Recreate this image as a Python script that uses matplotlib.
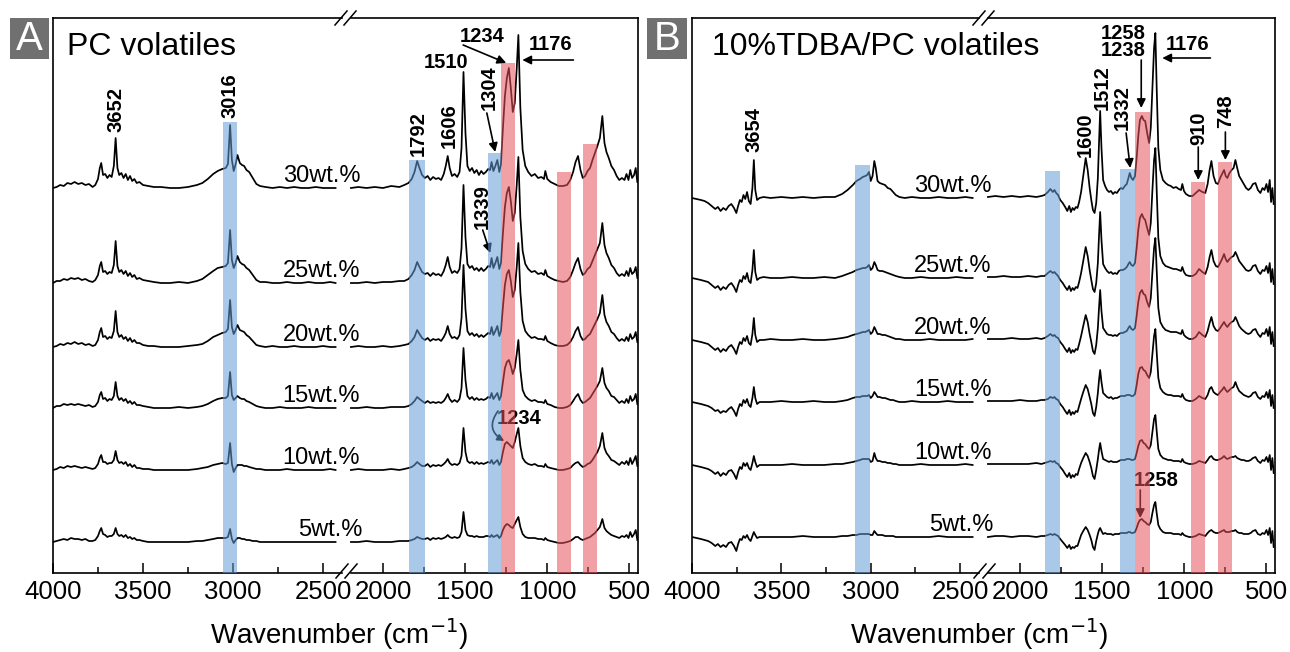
import numpy as np
import matplotlib.pyplot as plt
from matplotlib.lines import Line2D
from matplotlib.patches import Rectangle

plt.rcParams['font.family'] = ['Liberation Sans', 'DejaVu Sans']

# ---------------- data (absorbance, arbitrary units) ----------------
CONC = ['30wt.%', '25wt.%', '20wt.%', '15wt.%', '10wt.%', '5wt.%']

# panel A: PC volatiles
A_LEFT_WN = [4000, 3980, 3960, 3940, 3920, 3900, 3880, 3860, 3840, 3820,
             3800, 3780, 3765, 3750, 3740, 3732, 3722, 3710, 3698, 3686,
             3674, 3662, 3652, 3642, 3632, 3620, 3608, 3596, 3584, 3572,
             3560, 3548, 3535, 3520, 3500, 3470, 3440, 3400, 3350, 3300,
             3250, 3200, 3170, 3140, 3110, 3085, 3060, 3040, 3028, 3016,
             3006, 2996, 2985, 2975, 2962, 2950, 2938, 2925, 2910, 2890,
             2870, 2850, 2820, 2780, 2740, 2700, 2660, 2620, 2580, 2540,
             2500, 2460, 2430]
A_LEFT_30 = [0, 1, 3, 2, 5, 4, 6, 4, 5, 3, 4, 1, 3, 9, 20, 25, 13, 14, 10, 13,
             11, 22, 50, 20, 13, 15, 10, 14, 8, 12, 7, 9, 5, 6, 3, 2, 1, 1, 0, 0,
             1, 3, 5, 9, 14, 17, 19, 20, 24, 63, 28, 17, 24, 33, 25, 23, 22, 18, 16, 10,
             4, 2, 1, 0, 1, 0, 1, 0, 0, 1, 0, 0, 0]
A_LEFT_25 = [0, 2, 2, 4, 3, 5, 4, 5, 3, 4, 2, 1, 3, 8, 17, 21, 11, 12, 9, 11,
             10, 18, 42, 17, 11, 13, 9, 12, 7, 10, 6, 8, 4, 5, 3, 2, 1, 0, 0, 1,
             0, 2, 4, 8, 12, 15, 16, 17, 20, 53, 23, 15, 20, 27, 21, 19, 18, 15, 13, 8,
             3, 1, 1, 0, 0, 1, 0, 0, 1, 0, 0, 1, 0]
A_LEFT_20 = [0, 1, 3, 2, 4, 3, 5, 3, 4, 2, 3, 1, 2, 7, 15, 19, 10, 11, 8, 10,
             9, 16, 36, 15, 10, 12, 8, 10, 6, 9, 5, 7, 4, 4, 2, 1, 1, 0, 0, 0,
             1, 2, 3, 6, 10, 12, 14, 15, 18, 47, 20, 13, 17, 22, 17, 16, 15, 12, 10, 6,
             2, 1, 0, 1, 0, 0, 1, 0, 0, 0, 1, 0, 0]
A_LEFT_15 = [0, 2, 2, 4, 3, 4, 3, 4, 3, 2, 3, 1, 2, 6, 13, 16, 9, 10, 7, 9,
             8, 12, 26, 12, 8, 10, 7, 9, 5, 7, 4, 6, 3, 3, 2, 1, 0, 0, 0, 1,
             0, 1, 2, 4, 7, 9, 10, 10, 12, 36, 13, 8, 10, 12, 10, 9, 9, 7, 6, 4,
             2, 1, 0, 0, 1, 0, 0, 0, 1, 0, 0, 0, 0]
A_LEFT_10 = [0, 1, 3, 2, 4, 3, 4, 3, 2, 3, 2, 1, 2, 6, 12, 15, 8, 8, 6, 7,
             7, 10, 19, 10, 7, 8, 6, 8, 4, 6, 3, 5, 2, 2, 1, 1, 0, 0, 0, 0,
             0, 1, 2, 3, 5, 6, 7, 6, 7, 27, 6, -2, 2, 5, 5, 5, 4, 4, 3, 2,
             1, 1, 0, 0, 0, 1, 0, 0, 0, 0, 0, 1, 0]
A_LEFT_5 = [0, 1, 2, 3, 2, 4, 3, 3, 2, 3, 1, 1, 2, 6, 11, 14, 8, 7, 5, 6,
            6, 8, 14, 8, 6, 7, 5, 7, 4, 5, 3, 4, 2, 2, 1, 0, 0, 0, 0, 0,
            0, 1, 1, 2, 3, 4, 4, 4, 5, 13, 3, -1, 2, 4, 4, 3, 3, 2, 2, 1,
            1, 0, 0, 0, 0, 0, 0, 0, 0, 0, 0, 0, 0]

A_RIGHT_WN = [2195, 2150, 2100, 2050, 2000, 1950, 1900, 1870, 1845, 1825,
              1808, 1792, 1778, 1762, 1745, 1728, 1712, 1695, 1678, 1662,
              1646, 1630, 1618, 1606, 1594, 1580, 1564, 1548, 1534, 1522,
              1510, 1498, 1486, 1472, 1458, 1444, 1430, 1416, 1402, 1388,
              1374, 1360, 1348, 1339, 1328, 1316, 1304, 1292, 1282, 1270,
              1258, 1246, 1234, 1222, 1210, 1198, 1186, 1176, 1164, 1150,
              1134, 1116, 1096, 1076, 1056, 1036, 1020, 1012, 1000, 980,
              955, 930, 905, 880, 860, 843, 828, 813, 798, 784,
              770, 755, 740, 725, 710, 695, 680, 665, 652, 640,
              626, 610, 594, 578, 562, 546, 530, 518, 506, 495,
              484, 472, 462, 452]
A_RIGHT_30 = [0, 1, 0, 1, 0, 2, 1, 3, 5, 9, 16, 27, 20, 13, 10, 12, 8, 11, 9, 10,
              8, 14, 22, 32, 20, 12, 14, 11, 16, 40, 116, 55, 22, 17, 20, 15, 18, 13, 17, 14,
              16, 19, 18, 26, 17, 22, 28, 16, 24, 60, 92, 110, 120, 100, 76, 85, 120, 153, 80, 38,
              22, 16, 12, 14, 10, 11, 9, 17, 9, 6, 4, 2, 2, 3, 8, 16, 26, 32, 18, 10,
              12, 17, 20, 28, 35, 42, 50, 72, 45, 36, 30, 22, 18, 12, 8, 10, 8, 14, 8, 18,
              10, 13, 20, 6]
A_RIGHT_25 = [0, 0, 1, 0, 1, 1, 2, 2, 4, 8, 13, 21, 16, 11, 9, 10, 7, 10, 8, 9,
              7, 12, 18, 26, 16, 10, 12, 10, 14, 35, 98, 46, 19, 15, 17, 13, 15, 12, 15, 12,
              14, 17, 16, 25, 15, 20, 26, 14, 20, 50, 76, 90, 96, 82, 62, 70, 98, 126, 66, 32,
              19, 14, 11, 12, 9, 10, 8, 13, 7, 5, 3, 2, 1, 2, 6, 13, 20, 25, 14, 8,
              10, 14, 16, 22, 28, 34, 40, 60, 38, 30, 25, 18, 15, 10, 7, 9, 7, 12, 7, 15,
              9, 11, 16, 5]
A_RIGHT_20 = [0, 1, 0, 0, 1, 0, 1, 2, 3, 6, 10, 17, 13, 9, 7, 9, 6, 8, 7, 8,
              6, 10, 14, 21, 13, 9, 10, 8, 12, 29, 82, 38, 16, 12, 14, 11, 13, 10, 12, 10,
              12, 14, 13, 20, 12, 16, 21, 11, 16, 40, 62, 73, 77, 66, 50, 57, 80, 104, 55, 26,
              16, 12, 9, 10, 8, 8, 7, 11, 6, 4, 2, 1, 1, 2, 5, 10, 16, 20, 11, 7,
              8, 11, 13, 18, 23, 28, 34, 52, 32, 25, 21, 15, 13, 9, 6, 8, 6, 10, 6, 13,
              8, 10, 15, 5]
A_RIGHT_15 = [0, 0, 1, 0, 0, 1, 1, 1, 2, 4, 7, 11, 9, 7, 5, 7, 5, 6, 5, 6,
              5, 7, 10, 14, 9, 6, 8, 6, 9, 20, 60, 28, 12, 9, 11, 8, 10, 8, 9, 8,
              9, 11, 10, 15, 9, 12, 15, 8, 12, 26, 40, 46, 48, 42, 34, 40, 54, 68, 38, 18,
              12, 9, 7, 8, 6, 6, 5, 8, 4, 3, 1, 0, 0, 1, 3, 7, 11, 14, 8, 5,
              6, 8, 10, 14, 18, 22, 27, 40, 25, 20, 17, 12, 11, 8, 5, 7, 5, 9, 5, 12,
              7, 9, 14, 4]
A_RIGHT_10 = [0, 1, 0, 0, 0, 1, 0, 1, 2, 3, 5, 8, 6, 4, 4, 6, 3, 5, 4, 5,
              4, 6, 8, 11, 7, 5, 6, 5, 7, 14, 42, 18, 9, 7, 8, 6, 8, 6, 7, 6,
              7, 8, 7, 10, 6, 8, 10, 5, 8, 18, 26, 28, 26, 24, 22, 28, 36, 42, 24, 12,
              8, 6, 5, 6, 4, 4, 3, 6, 3, 2, 1, 0, 0, 1, 2, 5, 7, 8, 5, 3,
              4, 6, 7, 10, 14, 18, 24, 37, 22, 17, 14, 10, 9, 7, 5, 8, 6, 9, 5, 12,
              6, 10, 14, 4]
A_RIGHT_5 = [0, 0, 1, 0, 0, 0, 1, 1, 1, 2, 3, 5, 4, 3, 3, 4, 2, 4, 3, 4,
             3, 4, 5, 7, 5, 4, 5, 4, 5, 10, 30, 12, 7, 6, 6, 5, 6, 5, 5, 5,
             6, 6, 5, 7, 5, 6, 7, 4, 6, 12, 16, 18, 17, 15, 14, 18, 22, 25, 15, 8,
             5, 4, 4, 4, 3, 3, 2, 4, 2, 1, 0, -1, -1, 0, 1, 3, 5, 5, 3, 2,
             3, 4, 5, 7, 9, 12, 15, 23, 14, 11, 9, 7, 6, 5, 4, 6, 5, 7, 4, 10,
             5, 8, 12, 2]

# panel B: 10%TDBA/PC volatiles
B_LEFT_WN = [4000, 3975, 3950, 3930, 3910, 3890, 3870, 3855, 3840, 3825,
             3810, 3795, 3780, 3765, 3752, 3742, 3732, 3722, 3712, 3702,
             3692, 3682, 3672, 3662, 3654, 3646, 3636, 3622, 3600, 3560,
             3500, 3440, 3380, 3320, 3260, 3200, 3160, 3130, 3100, 3080,
             3060, 3045, 3030, 3020, 3010, 3000, 2990, 2980, 2972, 2962,
             2950, 2935, 2920, 2905, 2890, 2875, 2860, 2840, 2810, 2770,
             2720, 2670, 2620, 2570, 2520, 2470, 2430]
B_LEFT_30 = [0, -1, -2, -3, -5, -8, -11, -9, -13, -10, -12, -8, -6, -10, -15, -8, -2, -4, 3, -1,
             6, -3, -6, 10, 38, 8, -2, 0, 1, 0, 1, 0, 1, 0, 1, 1, 4, 8, 13, 17,
             19, 21, 22, 23, 26, 17, 22, 37, 30, 17, 15, 14, 13, 10, 9, 6, 3, 1, 0, 1,
             0, 0, 1, 0, 0, 1, 0]
B_LEFT_25 = [0, -1, -2, -3, -4, -7, -10, -8, -12, -9, -11, -7, -5, -9, -14, -7, -2, -4, 2, -1,
             5, -3, -5, 8, 28, 6, -2, 0, 1, 0, 0, 1, 0, 0, 1, 0, 2, 4, 6, 8,
             9, 10, 10, 11, 13, 8, 10, 16, 13, 8, 7, 7, 6, 5, 4, 3, 2, 1, 0, 0,
             1, 0, 0, 0, 1, 0, 0]
B_LEFT_20 = [0, -1, -2, -3, -4, -7, -10, -8, -12, -9, -11, -7, -5, -9, -14, -7, -2, -4, 2, -1,
             4, -3, -5, 6, 22, 5, -2, 0, 0, 1, 0, 0, 1, 0, 0, 1, 2, 3, 5, 6,
             7, 8, 8, 9, 10, 6, 8, 13, 10, 6, 6, 5, 5, 4, 3, 2, 1, 1, 0, 0,
             0, 1, 0, 0, 0, 0, 1]
B_LEFT_15 = [0, -1, -2, -3, -4, -6, -9, -8, -11, -9, -10, -7, -5, -9, -14, -7, -2, -4, 2, -1,
             3, -3, -5, 4, 15, 4, -2, 0, 0, 0, 1, 0, 0, 1, 0, 0, 1, 2, 4, 5,
             5, 6, 6, 6, 7, 4, 6, 10, 8, 5, 5, 4, 4, 3, 2, 2, 1, 0, 0, 1,
             0, 0, 0, 1, 0, 0, 0]
B_LEFT_10 = [0, -1, -2, -3, -4, -6, -9, -7, -11, -8, -10, -6, -5, -9, -14, -7, -2, -4, 2, -1,
             2, -3, -5, 2, 9, 3, -2, 0, 0, 0, 0, 1, 0, 0, 0, 1, 1, 2, 3, 4,
             5, 6, 6, 6, 6, 3, 4, 12, 7, 4, 4, 3, 3, 2, 2, 1, 1, 0, 0, 0,
             1, 0, 0, 0, 0, 1, 0]
B_LEFT_5 = [0, -1, -2, -3, -4, -6, -9, -7, -10, -8, -10, -6, -5, -9, -14, -7, -2, -3, 1, -1,
            2, -2, -4, 1, 5, 2, -1, 0, 0, 0, 0, 0, 1, 0, 0, 0, 1, 1, 2, 2,
            3, 3, 3, 3, 3, 2, 2, 6, 4, 2, 2, 2, 1, 1, 1, 1, 0, 0, 0, 0,
            0, 0, 1, 0, 0, 0, 0]

B_RIGHT_WN = [2195, 2150, 2100, 2050, 2000, 1950, 1900, 1870, 1850, 1830,
              1815, 1800, 1790, 1780, 1768, 1755, 1740, 1725, 1712, 1700,
              1690, 1680, 1670, 1660, 1650, 1640, 1628, 1615, 1600, 1588,
              1576, 1566, 1556, 1546, 1536, 1526, 1519, 1512, 1504, 1494,
              1482, 1470, 1458, 1446, 1434, 1422, 1410, 1398, 1386, 1374,
              1362, 1350, 1340, 1332, 1322, 1312, 1300, 1290, 1280, 1270,
              1258, 1248, 1238, 1226, 1214, 1204, 1194, 1184, 1176, 1168,
              1158, 1146, 1130, 1114, 1098, 1082, 1066, 1050, 1034, 1020,
              1012, 1002, 990, 970, 950, 930, 910, 890, 872, 858,
              846, 835, 822, 808, 795, 782, 770, 758, 748, 738,
              725, 712, 700, 689, 678, 666, 652, 638, 624, 610,
              596, 582, 567, 552, 537, 524, 512, 500, 490, 480,
              472, 464, 456]
B_RIGHT_30 = [1, 2, 1, 2, 1, 2, 1, 2, 3, 6, 9, 6, 8, 5, 3, -2, -5, -9, -13, -8,
              -14, -10, -12, -9, -10, -4, 6, 22, 40, 28, 10, -2, -12, -15, -5, 20, 55, 87, 50, 18,
              12, 8, 6, 7, 4, 6, 5, 8, 10, 9, 12, 14, 20, 25, 20, 18, 22, 40, 62, 78,
              82, 78, 77, 65, 55, 70, 110, 150, 165, 110, 50, 28, 18, 15, 13, 12, 10, 11, 9, 8,
              14, 7, 4, 2, 2, 5, 8, 6, 5, 14, 28, 37, 22, 15, 14, 20, 24, 28, 22, 20,
              25, 28, 30, 38, 30, 22, 18, 14, 10, 8, 10, 14, 15, 8, 5, 10, 8, 14, 6, 18,
              -4, 10, -6]
B_RIGHT_25 = [1, 1, 2, 1, 1, 2, 1, 2, 2, 5, 7, 5, 6, 4, 2, -2, -5, -9, -12, -8,
              -13, -10, -12, -9, -10, -4, 5, 17, 31, 22, 8, -2, -11, -14, -5, 15, 42, 66, 38, 14,
              10, 7, 5, 6, 4, 5, 4, 7, 8, 8, 9, 11, 14, 16, 13, 12, 15, 30, 48, 60,
              64, 60, 58, 50, 43, 55, 88, 118, 130, 88, 40, 22, 15, 12, 11, 10, 9, 9, 8, 7,
              11, 6, 3, 2, 2, 4, 9, 6, 4, 11, 21, 28, 17, 12, 11, 15, 19, 24, 19, 16,
              19, 21, 22, 26, 22, 17, 14, 11, 8, 7, 8, 12, 13, 7, 4, 8, 7, 12, 5, 15,
              -4, 9, -6]
B_RIGHT_20 = [1, 1, 1, 2, 1, 1, 2, 1, 2, 4, 6, 4, 5, 3, 2, -2, -5, -9, -12, -8,
              -13, -10, -12, -9, -10, -4, 4, 14, 25, 18, 6, -2, -11, -14, -5, 12, 32, 50, 29, 12,
              9, 6, 5, 5, 4, 5, 4, 6, 7, 7, 8, 9, 12, 14, 11, 10, 12, 24, 38, 47,
              50, 46, 45, 38, 33, 42, 68, 92, 102, 70, 32, 18, 13, 10, 9, 8, 8, 8, 7, 6,
              10, 5, 3, 1, 1, 3, 8, 5, 3, 9, 17, 23, 14, 10, 9, 12, 15, 18, 15, 13,
              16, 18, 19, 23, 19, 14, 11, 9, 7, 6, 7, 10, 11, 6, 3, 7, 6, 11, 4, 13,
              -4, 8, -6]
B_RIGHT_15 = [1, 1, 1, 1, 2, 1, 1, 2, 2, 3, 5, 4, 5, 3, 2, -2, -5, -9, -12, -8,
              -13, -10, -12, -9, -10, -4, 3, 10, 17, 13, 5, -2, -11, -14, -5, 9, 22, 32, 20, 9,
              7, 5, 4, 5, 3, 4, 4, 5, 6, 6, 6, 7, 7, 7, 6, 6, 8, 17, 28, 34,
              35, 32, 31, 27, 24, 30, 48, 66, 73, 50, 24, 14, 10, 8, 7, 7, 6, 6, 6, 5,
              8, 4, 2, 1, 1, 3, 6, 4, 3, 7, 13, 15, 10, 8, 7, 10, 12, 15, 12, 10,
              12, 14, 15, 20, 15, 11, 9, 7, 6, 5, 6, 9, 10, 5, 3, 6, 5, 10, 4, 12,
              -4, 7, -6]
B_RIGHT_10 = [1, 1, 1, 1, 1, 1, 2, 1, 2, 3, 4, 3, 4, 2, 1, -2, -5, -9, -12, -8,
              -13, -10, -12, -9, -10, -4, 2, 7, 12, 9, 3, -3, -11, -14, -5, 6, 15, 22, 14, 6,
              5, 4, 3, 4, 3, 3, 3, 4, 5, 5, 5, 6, 6, 6, 5, 5, 6, 12, 19, 24,
              25, 22, 21, 18, 16, 20, 33, 46, 50, 34, 16, 10, 7, 6, 5, 5, 4, 4, 4, 3,
              6, 3, 2, 1, 1, 2, 4, 3, 2, 5, 8, 9, 6, 5, 5, 6, 7, 9, 7, 6,
              7, 8, 8, 9, 7, 6, 5, 5, 4, 4, 5, 7, 8, 4, 2, 5, 4, 8, 3, 10,
              -5, 7, -8]
B_RIGHT_5 = [0, 1, 1, 0, 1, 1, 0, 1, 1, 2, 3, 2, 3, 2, 1, -2, -5, -8, -11, -8,
             -12, -10, -11, -9, -9, -4, 2, 6, 10, 7, 2, -3, -10, -13, -4, 3, 7, 9, 6, 3,
             4, 3, 3, 3, 2, 3, 3, 3, 4, 4, 4, 4, 5, 5, 4, 4, 5, 9, 14, 17,
             18, 16, 15, 13, 12, 15, 24, 32, 35, 24, 12, 8, 5, 4, 4, 4, 3, 3, 3, 2,
             4, 2, 1, 0, 0, 1, 3, 2, 1, 4, 6, 7, 5, 4, 4, 5, 6, 7, 5, 5,
             5, 6, 6, 7, 5, 4, 4, 3, 3, 3, 4, 6, 7, 3, 2, 4, 3, 7, 2, 9,
             -6, 6, -10]

A_LEFT = [A_LEFT_30, A_LEFT_25, A_LEFT_20, A_LEFT_15, A_LEFT_10, A_LEFT_5]
A_RIGHT = [A_RIGHT_30, A_RIGHT_25, A_RIGHT_20, A_RIGHT_15, A_RIGHT_10, A_RIGHT_5]
B_LEFT = [B_LEFT_30, B_LEFT_25, B_LEFT_20, B_LEFT_15, B_LEFT_10, B_LEFT_5]
B_RIGHT = [B_RIGHT_30, B_RIGHT_25, B_RIGHT_20, B_RIGHT_15, B_RIGHT_10, B_RIGHT_5]

# ---------------- layout / style ----------------
W, H = 1290, 652
YTOP = 555                      # frame height in "pixel" data units
BLUE = '#649bd5'
PINK = '#e7525b'
LEFT_LIM = (4000, 2372)
RIGHT_LIM = (2225, 448)

fig = plt.figure(figsize=(W / 100, H / 100), dpi=100)


def px_rect(x0, x1, y0=18, y1=573):
    return [x0 / W, 1 - y1 / H, (x1 - x0) / W, (y1 - y0) / H]


def setup(ax, side):
    ax.set_facecolor('none')
    ax.set_ylim(0, YTOP)
    ax.set_yticks([])
    if side == 'left':
        ax.set_xlim(*LEFT_LIM)
        ax.set_xticks([4000, 3500, 3000, 2500])
        ax.set_xticks([3750, 3250, 2750], minor=True)
        ax.spines['right'].set_visible(False)
        ax.spines['top'].set_bounds(4000, 2395)
        ax.spines['bottom'].set_bounds(4000, 2395)
    else:
        ax.set_xlim(*RIGHT_LIM)
        ax.set_xticks([2000, 1500, 1000, 500])
        ax.set_xticks([1750, 1250, 750], minor=True)
        ax.spines['left'].set_visible(False)
        ax.spines['top'].set_bounds(2195, 448)
        ax.spines['bottom'].set_bounds(2195, 448)
    for s in ax.spines.values():
        s.set_linewidth(1.2)
    ax.tick_params(axis='x', which='major', direction='in', length=7, width=1.1,
                   labelsize=18.5, pad=5)
    ax.tick_params(axis='x', which='minor', direction='in', length=4, width=1.1)


def band(ax, lo, hi, top, color):
    ax.axvspan(lo, hi, ymin=0, ymax=top / YTOP, color=color, alpha=0.55, lw=0, zorder=4)


def arrow(ax, tail, tip, rad=0.0, ms=13):
    ax.annotate('', xy=tip, xytext=tail,
                arrowprops=dict(arrowstyle='-|>', color='black', lw=1.2,
                                mutation_scale=ms, shrinkA=0, shrinkB=0,
                                connectionstyle='arc3,rad=%s' % rad))


def label(ax, s, x, y, rot=0, **kw):
    ax.text(x, y, s, rotation=rot, ha='center', va='center', fontsize=14.5,
            fontweight='bold', zorder=3, **kw)


def slashes(xc_list, yc):
    for xc in xc_list:
        fig.add_artist(Line2D([(xc - 6) / W, (xc + 6) / W], [1 - (yc + 7) / H, 1 - (yc - 7) / H],
                              transform=fig.transFigure, color='black', lw=1.1))


panels = [
    dict(letter='A', title='PC volatiles', lx=(53, 346), rx=(346, 638), box=(10, 49),
         lwn=A_LEFT_WN, rwn=A_RIGHT_WN, left=A_LEFT, right=A_RIGHT,
         offsets=[385, 290, 226, 165, 103, 31], conc_x=[2724] * 5 + [2640],
         slash=[341, 350], xlab=339, tx=0.048),
    dict(letter='B', title='10%TDBA/PC volatiles', lx=(692, 983), rx=(983, 1275), box=(647, 687),
         lwn=B_LEFT_WN, rwn=B_RIGHT_WN, left=B_LEFT, right=B_RIGHT,
         offsets=[375, 295, 233, 171, 108, 36], conc_x=[2757] * 5 + [2673],
         slash=[979, 988], xlab=979, tx=0.069),
]

axes = []
for p in panels:
    axl = fig.add_axes(px_rect(*p['lx']))
    axr = fig.add_axes(px_rect(*p['rx']))
    setup(axl, 'left')
    setup(axr, 'right')
    for off, yl, yr, c, cx in zip(p['offsets'], p['left'], p['right'], CONC, p['conc_x']):
        axl.plot(p['lwn'], off + np.array(yl), color='black', lw=1.25, zorder=2)
        axr.plot(p['rwn'], off + np.array(yr), color='black', lw=1.25, zorder=2)
        axl.text(cx, off + 6, c, fontsize=17, va='baseline', ha='left', zorder=3)
    axl.text(p['tx'], 518, p['title'], transform=axl.get_yaxis_transform(),
             fontsize=23, va='baseline', ha='left')
    # panel letter
    b0, b1 = p['box']
    fig.add_artist(Rectangle((b0 / W, 1 - 59 / H), (b1 - b0) / W, 41 / H,
                             transform=fig.transFigure, color='#707070', lw=0))
    fig.text((b0 + b1) / 2 / W, 1 - 38.5 / H, p['letter'], color='white', fontsize=29,
             ha='center', va='center')
    fig.text(p['xlab'] / W, 0.012, 'Wavenumber (cm$^{-1}$)', fontsize=20,
             ha='center', va='baseline')
    slashes(p['slash'], 18)
    slashes([s + 1 for s in p['slash']], 571)
    axes.append((axl, axr))

(aAl, aAr), (bAl, bAr) = axes

# ---- highlight bands (lo, hi, top) ----
band(aAl, 3058, 2980, 451, BLUE)
band(aAr, 1841, 1744, 413, BLUE)
band(aAr, 1361, 1281, 420, BLUE)
band(aAr, 1281, 1195, 510, PINK)
band(aAr, 939, 854, 401, PINK)
band(aAr, 780, 695, 429, PINK)

band(bAl, 3086, 3002, 408, BLUE)
band(bAr, 1848, 1756, 402, BLUE)
band(bAr, 1390, 1299, 404, BLUE)
band(bAr, 1299, 1207, 461, PINK)
band(bAr, 957, 872, 391, PINK)
band(bAr, 793, 707, 411, PINK)

# ---- peak labels panel A ----
label(aAl, '3652', 3652, 463, 90)
label(aAl, '3016', 3016, 477, 90)
label(aAr, '1792', 1785, 439, 90)
label(aAr, '1606', 1598, 447, 90)
label(aAr, '1510', 1616, 511)
label(aAr, '1304', 1354, 485, 90)
label(aAr, '1234', 1396, 536)
label(aAr, '1176', 979, 528)
label(aAr, '1339', 1396, 366, 90)
label(aAr, '1234', 1170, 155)
arrow(aAr, (1512, 528), (1250, 510))
arrow(aAr, (841, 513), (1152, 513))
arrow(aAr, (1368, 460), (1317, 421))
arrow(aAr, (1393, 343), (1347, 320))
arrow(aAr, (1300, 162), (1262, 132), rad=0.55, ms=10)

# ---- peak labels panel B ----
label(bAl, '3654', 3654, 443, 90)
label(bAr, '1600', 1604, 438, 90)
label(bAr, '1512', 1500, 485, 90)
label(bAr, '1332', 1378, 465, 90)
label(bAr, '1258\n1238', 1372, 531, linespacing=0.85)
label(bAr, '1176', 982, 528)
label(bAr, '910', 915, 445, 90)
label(bAr, '748', 750, 462, 90)
label(bAr, '1258', 1171, 93)
arrow(bAr, (1354, 440), (1329, 405))
arrow(bAr, (1262, 513), (1262, 465))
arrow(bAr, (841, 515), (1134, 515))
arrow(bAr, (915, 426), (915, 393))
arrow(bAr, (750, 441), (750, 413))
arrow(bAr, (1268, 83), (1268, 55))

fig.savefig('out.png', dpi=100)
